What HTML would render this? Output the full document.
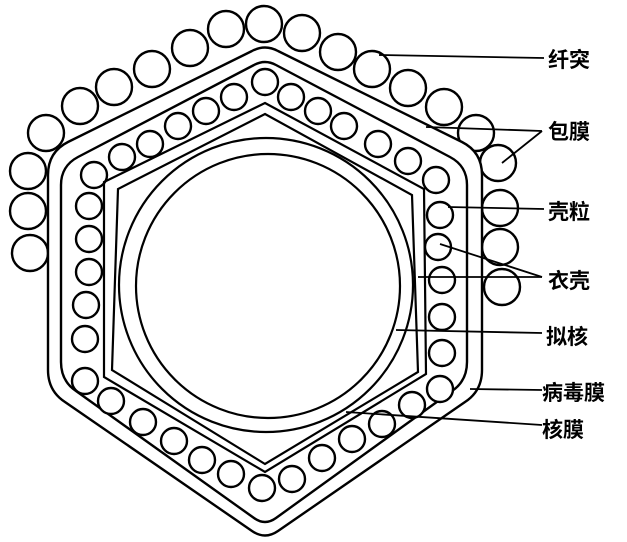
<!DOCTYPE html>
<html><head><meta charset="utf-8"><style>
html,body{margin:0;padding:0;background:#fff;}
svg{display:block}
text{font-family:"Liberation Sans","Noto Sans CJK SC",sans-serif;font-size:21px;fill:#000;font-weight:bold}
</style></head><body>
<svg width="627" height="542" viewBox="0 0 627 542" xmlns="http://www.w3.org/2000/svg">
<g fill="#fff" stroke="#000" stroke-width="2.4">
<circle cx="30" cy="253" r="18"/><circle cx="28" cy="211" r="18"/><circle cx="28" cy="171" r="18"/>
<circle cx="46" cy="133" r="18"/><circle cx="80" cy="106" r="18"/><circle cx="114" cy="87" r="18"/>
<circle cx="152" cy="69" r="18"/><circle cx="190" cy="48" r="18"/><circle cx="226" cy="29" r="18"/>
<circle cx="264" cy="24" r="18"/><circle cx="302" cy="33" r="18"/><circle cx="338" cy="52" r="18"/>
<circle cx="372" cy="69" r="18"/><circle cx="408" cy="88" r="18"/><circle cx="444" cy="107" r="18"/>
<circle cx="476" cy="133" r="18"/><circle cx="498" cy="163" r="18"/><circle cx="500" cy="208" r="18"/>
<circle cx="500" cy="247" r="18"/><circle cx="502" cy="287" r="18"/>
</g>
<g fill="#fff" stroke="#000" stroke-width="2.4" stroke-linejoin="round">
<path d="M252,51 Q265,44 278,51 L462,142 Q482,152 482,175 L482,370 Q482,391 465,402 L278,531 Q265,540 252,531 L65,402 Q48,391 48,370 L48,175 Q48,152 68,142 Z"/>
<path d="M254,65 Q265,59 276,65 L450,157 Q467,166 467,185 L467,362 Q467,381 452,391 L276,518 Q265,526 254,518 L76,391 Q61,381 61,362 L61,185 Q61,166 78,157 Z"/>
</g>
<g fill="#fff" stroke="#000" stroke-width="2.4">
<circle cx="265" cy="82" r="13"/><circle cx="234" cy="97" r="13"/><circle cx="206" cy="111" r="13"/>
<circle cx="178" cy="126" r="13"/><circle cx="150" cy="144" r="13"/><circle cx="122" cy="157" r="13"/>
<circle cx="94" cy="175" r="13"/><circle cx="89" cy="206" r="13"/><circle cx="89" cy="239" r="13"/>
<circle cx="89" cy="272" r="13"/><circle cx="86" cy="305" r="13"/><circle cx="85" cy="339" r="13"/>
<circle cx="85" cy="381" r="13"/><circle cx="111" cy="401" r="13"/><circle cx="143" cy="422" r="13"/>
<circle cx="174" cy="441" r="13"/><circle cx="202" cy="460" r="13"/><circle cx="231" cy="474" r="13"/>
<circle cx="262" cy="488" r="13"/><circle cx="292" cy="479" r="13"/><circle cx="322" cy="458" r="13"/>
<circle cx="352" cy="439" r="13"/><circle cx="382" cy="424" r="13"/><circle cx="412" cy="405" r="13"/>
<circle cx="440" cy="389" r="13"/><circle cx="442" cy="353" r="13"/><circle cx="442" cy="317" r="13"/>
<circle cx="442" cy="280" r="13"/><circle cx="438" cy="247" r="13"/><circle cx="440" cy="215" r="13"/>
<circle cx="436" cy="180" r="13"/><circle cx="408" cy="161" r="13"/><circle cx="378" cy="144" r="13"/>
<circle cx="344" cy="126" r="13"/><circle cx="318" cy="111" r="13"/><circle cx="291" cy="97" r="13"/>
</g>
<g fill="none" stroke="#000" stroke-width="2.2" stroke-linejoin="miter">
<path d="M265,103 L424,189 L426,374 L265,472 L104,377 L104,182 Z"/>
<path d="M265,114 L412,195 L418,372 L265,464 L112,370 L118,189 Z"/>
<circle cx="266" cy="285" r="147"/>
<circle cx="268" cy="286" r="132"/>
</g>
<g stroke="#000" stroke-width="1.8" fill="none">
<line x1="379" y1="55" x2="544" y2="58"/>
<line x1="426" y1="127" x2="542" y2="131"/>
<line x1="502" y1="163" x2="542" y2="131"/>
<line x1="448" y1="207" x2="544" y2="209"/>
<line x1="440" y1="244" x2="542" y2="277"/>
<line x1="418" y1="277" x2="542" y2="277"/>
<line x1="396" y1="330" x2="542" y2="333"/>
<line x1="470" y1="389" x2="542" y2="390"/>
<line x1="346" y1="412" x2="542" y2="425"/>
</g>
<text x="548" y="67">纤突</text>
<text x="548" y="139">包膜</text>
<text x="548" y="219">壳粒</text>
<text x="548" y="288">衣壳</text>
<text x="546" y="344">拟核</text>
<text x="542" y="400">病毒膜</text>
<text x="542" y="437">核膜</text>
</svg>
</body></html>
